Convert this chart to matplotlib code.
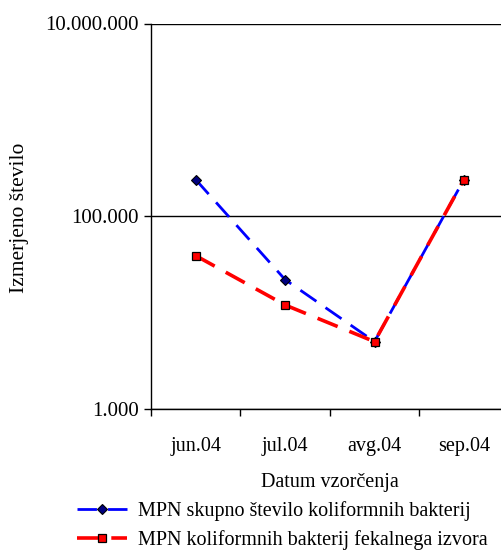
import matplotlib.pyplot as plt
from matplotlib.ticker import FuncFormatter, FixedLocator
from matplotlib.transforms import Bbox

# data
months = ["jun.04", "jul.04", "avg.04", "sep.04"]
mpn_total = [240000, 22000, 5000, 240000]
mpn_fecal = [39000, 12000, 5000, 240000]

label_total = "MPN skupno število koliformnih bakterij"
label_fecal = "MPN koliformnih bakterij fekalnega izvora"

plt.rcParams['font.family'] = ['Liberation Serif', 'DejaVu Serif']
plt.rcParams['font.size'] = 14.5

W, H = 502, 551
fig = plt.figure(figsize=(W / 100, H / 100), dpi=100)
ax = fig.add_axes([151 / W, 1 - 409 / H, 357.6 / W, (409 - 23.5) / H])

x = list(range(len(months)))
ax.plot(x, mpn_total, color="#0000ff", lw=2, dashes=(7, 4),
        marker="D", markersize=5, markerfacecolor="#000080",
        markeredgecolor="black", markeredgewidth=0.8, label=label_total, zorder=3)
ax.plot(x, mpn_fecal, color="#ff0000", lw=2.6, dashes=(6, 3.5),
        marker="s", markersize=6, markerfacecolor="#ff0000",
        markeredgecolor="black", markeredgewidth=0.9, label=label_fecal, zorder=4)

ax.set_yscale("log")
ax.set_ylim(1000, 10000000)
ax.yaxis.set_major_locator(FixedLocator([1e3, 1e5, 1e7]))
ax.yaxis.set_minor_locator(FixedLocator([]))
ax.yaxis.set_major_formatter(FuncFormatter(lambda v, p: f"{int(round(v)):,}".replace(",", ".")))
ax.grid(axis="y", color="black", lw=1)

ax.set_xlim(-0.5, len(months) - 0.5)
ax.set_xticks([i - 0.5 for i in range(len(months) + 1)])
ax.set_xticklabels([])
ax.set_xticks(x, minor=True)
ax.set_xticklabels(months, minor=True)
ax.tick_params(axis="x", which="minor", length=0, pad=20)
ax.tick_params(axis="x", which="major", length=5, width=1)
ax.tick_params(axis="y", length=5, width=1, pad=4, labelsize=15)

for s in ax.spines.values():
    s.set_linewidth(1)
ax.spines["top"].set_visible(False)

fig.text(330 / W, 1 - 482 / H, "Datum vzorčenja", ha="center", va="center")

# y label is cut off at its top in the reference
ylab = fig.text(20 / W, 1 - 293 / H, "Izmerjeno število", rotation=90,
                ha="center", va="bottom", fontsize=15.5)
ylab.set_clip_box(Bbox([[0, 0], [60, H - 143]]))
ylab.set_clip_on(True)

fig.legend(loc="center left", bbox_to_anchor=(77 / W, 1 - 525.5 / H), frameon=False,
           handlelength=2.5, handletextpad=0.55, labelspacing=0.45, borderaxespad=0,
           borderpad=0)

fig.savefig("out.png", dpi=100)
